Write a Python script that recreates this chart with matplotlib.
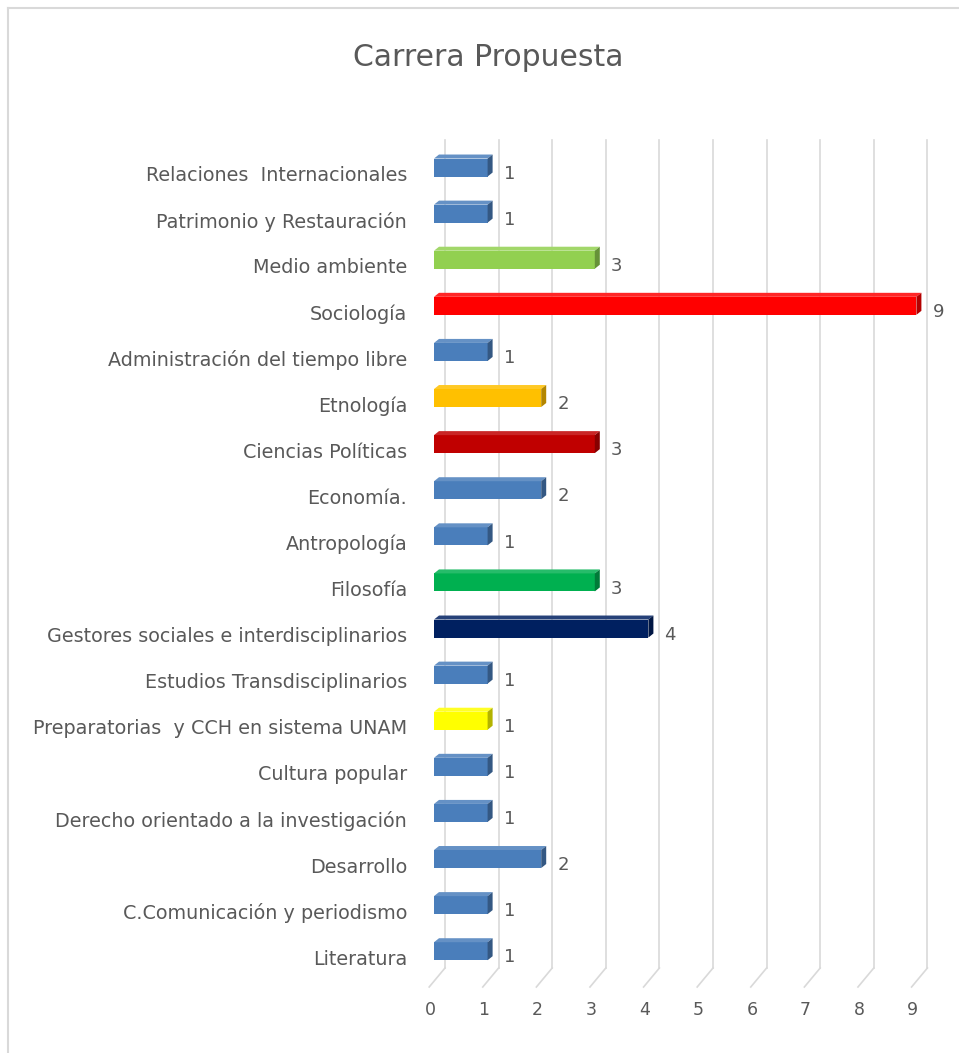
import matplotlib.pyplot as plt
from matplotlib.patches import Polygon, Rectangle
from matplotlib.lines import Line2D
from matplotlib.colors import to_rgb

plt.rcParams['font.family'] = ['DejaVu Sans']

# bottom -> top, as drawn
categories = ['Literatura', 'C.Comunicación y periodismo', 'Desarrollo',
              'Derecho orientado a la investigación', 'Cultura popular',
              'Preparatorias  y CCH en sistema UNAM', 'Estudios Transdisciplinarios',
              'Gestores sociales e interdisciplinarios', 'Filosofía', 'Antropología',
              'Economía.', 'Ciencias Políticas', 'Etnología',
              'Administración del tiempo libre', 'Sociología', 'Medio ambiente',
              'Patrimonio y Restauración', 'Relaciones  Internacionales']
values = [1, 1, 2, 1, 1, 1, 1, 4, 3, 1, 2, 3, 2, 1, 9, 3, 1, 1]
colors = ['#4A7EBB', '#4A7EBB', '#4A7EBB', '#4A7EBB', '#4A7EBB', '#FFFF00',
          '#4A7EBB', '#002060', '#00B050', '#4A7EBB', '#4A7EBB', '#C00000',
          '#FFC000', '#4A7EBB', '#FF0000', '#92D050', '#4A7EBB', '#4A7EBB']
x_ticks = list(range(10))

W, H = 959, 1053
fig = plt.figure(figsize=(W / 100, H / 100), dpi=100)

# frame of the chart area (left and top edges only visible)
fig.add_artist(Line2D([8 / W, 8 / W], [0, 1 - 8 / H], color='#D9D9D9', lw=1.5))
fig.add_artist(Line2D([8 / W, 1], [1 - 8 / H, 1 - 8 / H], color='#D9D9D9', lw=1.5))

fig.text(488 / W, 1 - 58 / H, 'Carrera Propuesta', ha='center', va='center',
         fontsize=21.5, color='#595959')

# axes placement in pixels
px_left, px_right, px_top, px_bot = 400, 950, 130, 1040
x0px, unit = 434, 53.6
y0px, step = 951, 46.1
ax = fig.add_axes([px_left / W, 1 - px_bot / H, (px_right - px_left) / W, (px_bot - px_top) / H])
ax.set_xlim((px_left - x0px) / unit, (px_right - x0px) / unit)
ax.set_ylim((y0px - px_bot) / step, (y0px - px_top) / step)
ax.axis('off')

depth_x = 11 / unit
floor_y = (y0px - 968) / step
wall_top = (y0px - 140) / step
for v in x_ticks:
    ax.plot([v + depth_x, v + depth_x], [floor_y, wall_top], color='#D9D9D9', lw=1.2, zorder=1)
    ax.plot([v + depth_x, v - 0.09], [floor_y, (y0px - 987) / step], color='#D9D9D9', lw=1.2, zorder=1)
    ax.text(v - 0.07, (y0px - 1010) / step, str(v), ha='center', va='center',
            fontsize=12.5, color='#595959')


def shade(c, f):
    r, g, b = to_rgb(c)
    if f < 1:
        return (r * f, g * f, b * f)
    return (r + (1 - r) * (f - 1), g + (1 - g) * (f - 1), b + (1 - b) * (f - 1))


bh = 18 / step
dx = 5 / unit
dy = 4 / step
for i, (v, c) in enumerate(zip(values, colors)):
    yb = i - 0.2
    yt = yb + bh
    ax.add_patch(Rectangle((0, yb), v, bh, facecolor=c, edgecolor='none', zorder=3))
    ax.add_patch(Polygon([(0, yt), (v, yt), (v + dx, yt + dy), (dx, yt + dy)],
                         closed=True, facecolor=shade(c, 1.15), edgecolor='none', zorder=3))
    ax.add_patch(Polygon([(v, yb), (v, yt), (v + dx, yt + dy), (v + dx, yb + dy)],
                         closed=True, facecolor=shade(c, 0.7), edgecolor='none', zorder=3))
    ax.text(v + 0.3, i - 0.14, str(v), ha='left', va='center', fontsize=13, color='#595959')
    ax.text(-0.5, i - 0.18, categories[i], ha='right', va='center', fontsize=13.8,
            color='#595959')

fig.savefig('out.png', dpi=100)
